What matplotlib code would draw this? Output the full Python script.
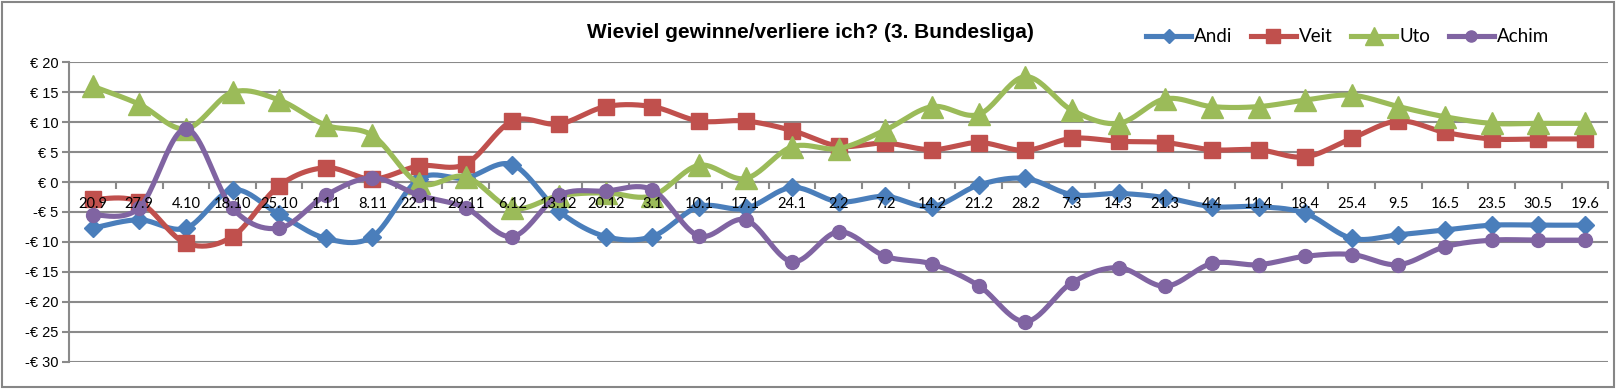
import numpy as np
import matplotlib
matplotlib.use("Agg")
import matplotlib.pyplot as plt
from matplotlib.lines import Line2D
from matplotlib.patches import Rectangle

dates = ["20.9", "27.9", "4.10", "18.10", "25.10", "1.11", "8.11", "22.11", "29.11", "6.12",
         "13.12", "20.12", "3.1", "10.1", "17.1", "24.1", "2.2", "7.2", "14.2", "21.2",
         "28.2", "7.3", "14.3", "21.3", "4.4", "11.4", "18.4", "25.4", "9.5", "16.5",
         "23.5", "30.5", "19.6"]

andi = [-7.7, -6.3, -7.7, -1.3, -5.4, -9.4, -9.1, 0.5, 0.7, 2.9,
        -4.9, -9.1, -9.1, -4.1, -4.4, -0.9, -3.3, -2.4, -4.1, -0.5,
        0.6, -2.1, -1.9, -2.6, -4.1, -4.1, -5.2, -9.4, -8.8, -8.0,
        -7.2, -7.2, -7.2]
veit = [-2.9, -3.3, -10.2, -9.1, -0.6, 2.4, 0.5, 2.7, 3.0, 10.2,
        9.7, 12.6, 12.6, 10.2, 10.2, 8.6, 6.0, 6.5, 5.4, 6.6,
        5.3, 7.3, 6.8, 6.6, 5.4, 5.4, 4.2, 7.3, 10.2, 8.3,
        7.2, 7.2, 7.2]
uto = [16.0, 13.0, 8.9, 15.0, 13.7, 9.5, 7.8, -0.2, 0.9, -4.4,
       -2.3, -1.8, -2.3, 2.8, 0.6, 5.9, 5.6, 8.7, 12.6, 11.3,
       17.6, 12.0, 9.8, 13.9, 12.6, 12.6, 13.7, 14.5, 12.6, 10.9,
       9.8, 9.8, 9.8]
achim = [-5.5, -4.3, 8.9, -4.4, -7.7, -2.2, 0.7, -2.2, -4.3, -9.1,
         -2.2, -1.5, -1.3, -9.0, -6.3, -13.3, -8.3, -12.4, -13.7, -17.3,
         -23.3, -16.8, -14.3, -17.4, -13.6, -13.8, -12.4, -12.1, -13.8, -10.8,
         -9.7, -9.7, -9.7]

names = ["Andi", "Veit", "Uto", "Achim"]
colors = ["#4a7ebb", "#c0504d", "#9bbb59", "#8064a2"]
markers = ["D", "s", "^", "o"]
msizes = [9, 12, 16, 10]

narrow = ["Liberation Sans Narrow", "Liberation Sans", "DejaVu Sans"]
calib = ["Lato", "DejaVu Sans"]


def smooth(y, n=24):
    # excel-like smoothed line: catmull-rom style bezier through the points
    pts = np.column_stack([np.arange(len(y)), np.asarray(y, float)])
    t = np.linspace(0, 1, n)[:, None]
    out = []
    for i in range(len(pts) - 1):
        p0 = pts[max(i - 1, 0)]
        p1 = pts[i]
        p2 = pts[i + 1]
        p3 = pts[min(i + 2, len(pts) - 1)]
        c1 = p1 + (p2 - p0) / 6
        c2 = p2 - (p3 - p1) / 6
        seg = (1 - t) ** 3 * p1 + 3 * (1 - t) ** 2 * t * c1 + 3 * (1 - t) * t ** 2 * c2 + t ** 3 * p2
        out.append(seg if i == 0 else seg[1:])
    seg = np.vstack(out)
    return seg[:, 0], seg[:, 1]


fig = plt.figure(figsize=(16.16, 3.89), dpi=100)
W, H = 1616, 389
ax = fig.add_axes([69.3 / W, 1 - 361.7 / H, (1608.3 - 69.3) / W, (361.7 - 62.3) / H])

gridc = "#8a8a8a"
x = np.arange(len(dates))
for k, ys in enumerate([andi, veit, uto, achim]):
    sx, sy = smooth(ys)
    ax.plot(sx, sy, color=colors[k], lw=3.7, solid_capstyle="round", zorder=3 + k)
    ax.plot(x, ys, ls="none", marker=markers[k], ms=msizes[k], color=colors[k],
            mec=colors[k], zorder=3 + k)

ax.set_xlim(-0.5, len(dates) - 0.5)
ax.set_ylim(-30, 20)
yt = list(range(-30, 21, 5))
ax.set_yticks(yt)
ax.set_yticklabels([("€ %d" % v) if v >= 0 else ("-€ %d" % -v) for v in yt],
                   fontfamily=narrow, fontsize=10.5)
ax.yaxis.grid(True, color=gridc, lw=1.5)
ax.tick_params(axis="y", length=5, width=1.5, color=gridc, pad=3)

ax.set_xticks([])
ax.set_xticks(np.arange(-0.5, len(dates)), minor=True)
ax.tick_params(axis="x", which="minor", length=5, width=1.5, color=gridc, direction="out")

for s in ["top", "right"]:
    ax.spines[s].set_visible(False)
ax.spines["left"].set_color(gridc)
ax.spines["left"].set_linewidth(1.5)
ax.spines["bottom"].set_position(("data", 0))
ax.spines["bottom"].set_color(gridc)
ax.spines["bottom"].set_linewidth(1.5)

for i, d in enumerate(dates):
    ax.annotate(d, (i, 0), xytext=(0, -16), textcoords="offset points",
                ha="center", va="center", fontsize=10.5, fontfamily=calib, zorder=20)

fig.text(810 / W, 1 - 33 / H, "Wieviel gewinne/verliere ich? (3. Bundesliga)",
         ha="center", va="center", fontsize=15, fontweight="bold", fontfamily=narrow)

handles = [Line2D([], [], color=colors[k], lw=3.7, marker=markers[k], ms=msizes[k] * 0.8)
           for k in range(4)]
fig.legend(handles, names, ncol=4, loc="center left", bbox_to_anchor=(1146 / W, 1 - 37 / H),
           frameon=False, prop={"family": calib, "size": 13.5}, handlelength=2.4,
           handletextpad=0.15, columnspacing=1.0, borderpad=0, borderaxespad=0)

fig.patches.append(Rectangle((2 / W, 2 / H), 1 - 4 / W, 1 - 4 / H, transform=fig.transFigure,
                             fill=False, ec="#868686", lw=1.5))

fig.savefig("out.png", dpi=100)
